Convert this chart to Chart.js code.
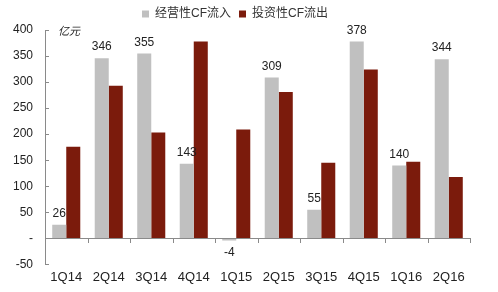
<!DOCTYPE html>
<html><head><meta charset="utf-8">
<script src="https://cdn.jsdelivr.net/npm/chart.js@4/dist/chart.umd.min.js"></script>
<style>html,body{margin:0;padding:0;background:#fff}#wrap{width:498px;height:292px}</style>
</head><body><div id="wrap"><canvas id="c"></canvas></div>
<script>
const categories = ['1Q14','2Q14','3Q14','4Q14','1Q15','2Q15','3Q15','4Q15','1Q16','2Q16'];
const operatingInflow = [26, 346, 355, 143, -4, 309, 55, 378, 140, 344];
const investingOutflow = [176, 293, 203, 378, 209, 281, 145, 324, 147, 118];
const seriesNames = ['经营性CF流入', '投资性CF流出'];
const yTicks = {min: -50, max: 400, step: 50};
const unitLabel = '亿元';

const FONT = "'Liberation Sans', Arial, 'Noto Sans CJK SC', sans-serif";

const decor = {
  id: 'decor',
  afterDatasetsDraw(chart) {
    const ctx = chart.ctx, ca = chart.chartArea;
    const x = chart.scales.x, y = chart.scales.y;
    const y0 = y.getPixelForValue(0);
    ctx.save();
    ctx.strokeStyle = '#8a8a8a'; ctx.lineWidth = 1;
    ctx.beginPath(); ctx.moveTo(ca.left, Math.round(y0)+0.5); ctx.lineTo(ca.right, Math.round(y0)+0.5); ctx.stroke();
    const step = x.getPixelForValue(1) - x.getPixelForValue(0);
    for (let i = 0; i <= categories.length; i++) {
      const px = x.getPixelForValue(0) - step/2 + i*step;
      ctx.beginPath(); ctx.moveTo(Math.round(px)+0.5, Math.round(y0)); ctx.lineTo(Math.round(px)+0.5, Math.round(y0)+5); ctx.stroke();
    }
    y.ticks.forEach(t => {
      const py = Math.round(y.getPixelForValue(t.value)) + 0.5;
      ctx.beginPath(); ctx.moveTo(ca.left, py); ctx.lineTo(ca.left + 4, py); ctx.stroke();
    });
    ctx.fillStyle = '#222';
    ctx.font = '12px ' + FONT;
    ctx.textAlign = 'center';
    const meta = chart.getDatasetMeta(0);
    meta.data.forEach((bar, i) => {
      const v = operatingInflow[i];
      if (v >= 0) { ctx.textBaseline = 'bottom'; ctx.fillText(String(v), bar.x, bar.y - 5); }
      else { ctx.textBaseline = 'top'; ctx.fillText(String(v), bar.x, bar.y + 6); }
    });
    ctx.font = 'italic 11px ' + FONT;
    ctx.textAlign = 'left'; ctx.textBaseline = 'middle';
    ctx.fillText(unitLabel, ca.left + 13, ca.top + 2);
    ctx.restore();
  }
};

new Chart(document.getElementById('c'), {
  type: 'bar',
  data: {
    labels: categories,
    datasets: [
      {label: seriesNames[0], data: operatingInflow, backgroundColor: '#c0c0c0'},
      {label: seriesNames[1], data: investingOutflow, backgroundColor: '#7b1b0c'}
    ]
  },
  options: {
    responsive: true, maintainAspectRatio: false, animation: false,
    layout: {padding: {left: 0, right: 28, top: 0, bottom: 2}},
    datasets: {bar: {categoryPercentage: 0.66, barPercentage: 1}},
    plugins: {
      legend: {
        position: 'top',
        labels: {boxWidth: 7, boxHeight: 7, font: {size: 12, family: FONT}, color: '#333', padding: 8},
        title: {display: false}
      },
      tooltip: {enabled: false}
    },
    scales: {
      x: {
        grid: {display: false, drawTicks: false},
        border: {display: false},
        ticks: {color: '#222', font: {size: 13, family: FONT}, padding: 5, maxRotation: 0}
      },
      y: {
        min: yTicks.min, max: yTicks.max,
        afterFit(s) { s.width = 45; },
        grid: {display: false, drawTicks: false},
        border: {display: true, color: '#8a8a8a'},
        ticks: {
          stepSize: yTicks.step, color: '#222', font: {size: 12, family: FONT}, padding: 12,
          callback: v => v === 0 ? '-' : v
        }
      }
    }
  },
  plugins: [decor]
});
</script></body></html>
